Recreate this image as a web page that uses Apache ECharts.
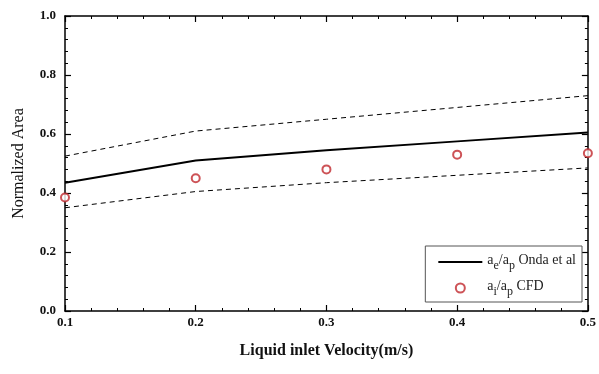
<!DOCTYPE html>
<html><head><meta charset="utf-8">
<script src="https://cdn.jsdelivr.net/npm/echarts@6/dist/echarts.min.js"></script>
<style>html,body{margin:0;padding:0;background:#fff}#c{width:599px;height:374px}</style>
</head><body><div id="c"></div>
<script>
var velocity = [0.1, 0.2, 0.3, 0.4, 0.5];
var ondaValues = [0.435, 0.51, 0.545, 0.575, 0.605];
var upperBound = [0.525, 0.61, 0.65, 0.69, 0.73];
var lowerBound = [0.35, 0.405, 0.435, 0.46, 0.485];
var cfdValues = [0.385, 0.45, 0.48, 0.53, 0.535];
var xTicks = ['0.1','0.2','0.3','0.4','0.5'];
var yTicks = ['0.0','0.2','0.4','0.6','0.8','1.0'];

function pairs(xs, ys){ return xs.map(function(x,i){return [x, ys[i]];}); }
var serif = '"Liberation Serif","DejaVu Serif",serif';
var chart = echarts.init(document.getElementById('c'));
var axisCommon = {
  axisLine:{show:true, onZero:false, lineStyle:{color:'#000', width:1.5}},
  axisTick:{show:true, inside:true, length:6, lineStyle:{color:'#000', width:1.2}},
  minorTick:{show:true, splitNumber:5, length:3, lineStyle:{color:'#000', width:1}},
  splitLine:{show:false}
};
chart.setOption({
  animation:false,
  backgroundColor:'#fff',
  grid:{left:65, right:10, top:16, bottom:63},
  legend:{
    right:17, bottom:72, orient:'vertical', itemGap:7,
    padding:[7,6,4,12],
    borderColor:'#555', borderWidth:1, backgroundColor:'#fff',
    itemWidth:44, itemHeight:9,
    data:[{name:'onda', itemStyle:{opacity:0}}, {name:'cfd'}],
    formatter:function(n){
      return n==='onda' ? '{n|a}{s|e}{n|/a}{s|p}{n| Onda et al}' : '{n|a}{s|i}{n|/a}{s|p}{n| CFD}';
    },
    textStyle:{fontFamily:serif, color:'#222', rich:{
      n:{fontFamily:serif, fontSize:14, color:'#222', padding:[0,0,4,0]},
      s:{fontFamily:serif, fontSize:12, color:'#222', padding:[8,0,0,0]}
    }}
  },
  xAxis:[Object.assign({
    type:'value', min:0.1, max:0.5, interval:0.1, position:'bottom',
    name:'Liquid inlet Velocity(m/s)', nameLocation:'middle', nameGap:32,
    nameTextStyle:{fontFamily:serif, fontWeight:'bold', fontSize:16, color:'#111'},
    axisLabel:{fontFamily:serif, fontWeight:'bold', fontSize:13, color:'#111', margin:5,
      formatter:function(v){ var i=Math.round((v-0.1)/0.1); return xTicks[i]||''; }}
  }, axisCommon),
  Object.assign({
    type:'value', min:0.1, max:0.5, interval:0.1, position:'top', axisLabel:{show:false}
  }, axisCommon)],
  yAxis:[Object.assign({
    type:'value', min:0, max:1, interval:0.2, position:'left',
    name:'Normalized Area', nameLocation:'middle', nameGap:38,
    nameTextStyle:{fontFamily:serif, fontSize:16, color:'#111'},
    axisLabel:{fontFamily:serif, fontWeight:'bold', fontSize:13, color:'#111', margin:9,
      formatter:function(v){ return yTicks[Math.round(v/0.2)]||''; }}
  }, axisCommon),
  Object.assign({
    type:'value', min:0, max:1, interval:0.2, position:'right', axisLabel:{show:false}
  }, axisCommon)],
  series:[
    {name:'onda', type:'line', data:pairs(velocity, ondaValues), symbol:'none',
     lineStyle:{color:'#000', width:2}, itemStyle:{color:'#000'}, z:3},
    {name:'upper', type:'line', data:pairs(velocity, upperBound), symbol:'none',
     lineStyle:{color:'#000', width:1, type:[5,4]}},
    {name:'lower', type:'line', data:pairs(velocity, lowerBound), symbol:'none',
     lineStyle:{color:'#000', width:1, type:[5,4]}},
    {name:'cfd', type:'scatter', data:pairs(velocity, cfdValues), symbol:'circle', symbolSize:8,
     itemStyle:{color:'#fff', borderColor:'#c0282d', borderWidth:2}, z:4}
  ]
});
</script></body></html>
